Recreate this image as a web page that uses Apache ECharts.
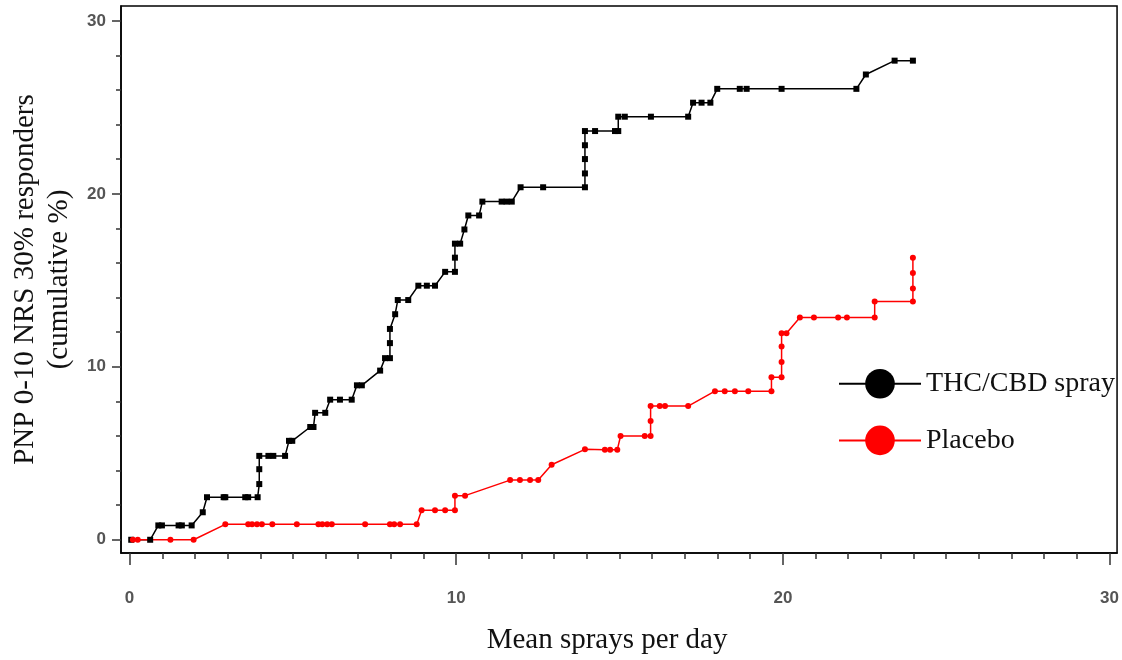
<!DOCTYPE html>
<html>
<head>
<meta charset="utf-8">
<script src="https://cdn.jsdelivr.net/npm/echarts@6/dist/echarts.min.js"></script>
<style>
  html, body { margin: 0; padding: 0; background: #fff; }
  #chart { width: 1122px; height: 660px; }
</style>
</head>
<body>
<div id="chart"></div>
<script>
// values
var thcX = [0.05, 0.63, 0.88, 0.99, 1.5, 1.6, 1.9, 2.24, 2.37, 2.88, 2.93, 3.54, 3.63, 3.92, 3.97, 3.97, 3.97,
  4.25, 4.4, 4.76, 4.88, 4.98, 5.53, 5.63, 5.68, 5.99, 6.14, 6.44, 6.8, 6.96, 7.11, 7.67, 7.82, 7.97, 7.97, 7.97,
  8.13, 8.21, 8.53, 8.84, 9.1, 9.35, 9.66, 9.96, 9.96, 9.96, 10.12, 10.25, 10.37, 10.7, 10.8, 11.39, 11.54, 11.7,
  11.97, 12.66, 13.94, 13.94, 13.94, 13.94, 13.94, 14.25, 14.86, 14.96, 14.96, 15.16, 15.96, 17.1, 17.25, 17.51,
  17.78, 17.99, 18.68, 18.89, 19.96, 22.25, 22.54, 23.42, 23.98];
var thcY = [0, 0, 0.83, 0.83, 0.83, 0.83, 0.83, 1.59, 2.46, 2.46, 2.46, 2.46, 2.46, 2.46, 3.22, 4.08, 4.85,
  4.85, 4.85, 4.85, 5.72, 5.72, 6.52, 6.52, 7.34, 7.34, 8.1, 8.1, 8.1, 8.93, 8.93, 9.78, 10.5, 10.5, 11.37, 12.19,
  13.04, 13.86, 13.86, 14.69, 14.69, 14.69, 15.49, 15.49, 16.31, 17.12, 17.12, 17.94, 18.75, 18.75, 19.55, 19.55, 19.55, 19.55,
  20.38, 20.38, 20.38, 21.18, 22.01, 22.81, 23.63, 23.63, 23.63, 23.63, 24.46, 24.46, 24.46, 24.46, 25.27, 25.27,
  25.27, 26.07, 26.07, 26.07, 26.07, 26.07, 26.9, 27.7, 27.7];

var placeboX = [0.1, 0.25, 1.25, 1.96, 2.93, 3.63, 3.75, 3.9, 4.05, 4.37, 5.12, 5.78, 5.9, 6.05, 6.19, 7.21,
  7.97, 8.1, 8.28, 8.79, 8.94, 9.35, 9.66, 9.96, 9.96, 10.27, 11.65, 11.95, 12.26, 12.51, 12.92, 13.94, 14.55,
  14.71, 14.93, 15.03, 15.77, 15.95, 15.95, 15.95, 16.23, 16.39, 17.1, 17.92, 18.22, 18.53, 18.94, 19.65, 19.65,
  19.96, 19.96, 19.96, 19.96, 20.11, 20.52, 20.95, 21.69, 21.96, 22.81, 22.81, 23.98, 23.98, 23.98, 23.98];
var placeboY = [0, 0, 0, 0, 0.89, 0.89, 0.89, 0.89, 0.89, 0.89, 0.89, 0.89, 0.89, 0.89, 0.89, 0.89,
  0.89, 0.89, 0.89, 0.89, 1.71, 1.71, 1.71, 1.71, 2.55, 2.55, 3.45, 3.45, 3.45, 3.45, 4.34, 5.23, 5.2,
  5.2, 5.2, 6.0, 6.0, 6.0, 6.87, 7.73, 7.73, 7.73, 7.73, 8.59, 8.59, 8.59, 8.59, 8.59, 9.4,
  9.4, 10.28, 11.18, 11.94, 11.94, 12.85, 12.85, 12.85, 12.85, 12.85, 13.77, 13.77, 14.53, 15.43, 16.3];

var xMajorTicks = [0, 10, 20, 30];
var xMinorTicks = [0, 1, 2, 3, 4, 5, 6, 7, 8, 9, 10, 11, 12, 13, 14, 15, 16, 17, 18, 19, 20,
  21, 22, 23, 24, 25, 26, 27, 28, 29, 30];
var yMajorTicks = [0, 10, 20, 30];
var yMinorTicks = [0, 2, 4, 6, 8, 10, 12, 14, 16, 18, 20, 22, 24, 26, 28, 30];

var serif = "'Liberation Serif', 'Times New Roman', serif";
var sans = "'Liberation Sans', Arial, sans-serif";

function pairs(xs, ys, sym) {
  var out = [];
  for (var i = 0; i < xs.length; i++) {
    var d = { value: [xs[i], ys[i]] };
    if (sym) d.symbol = sym;
    out.push(d);
  }
  return out;
}

var chart = echarts.init(document.getElementById('chart'));

var xRange = { min: -0.263, max: 30.23 };
var yRange = { min: -0.765, max: 30.86 };

chart.setOption({
  animation: false,
  backgroundColor: '#fff',
  grid: {
    left: 121, right: 4.5, top: 6, bottom: 104,
    show: true, borderColor: '#000', borderWidth: 1.5, backgroundColor: '#fff'
  },
  legend: {
    orient: 'vertical',
    left: 838, top: 369,
    padding: 0,
    itemWidth: 82, itemHeight: 37, itemGap: 27,
    textStyle: { fontFamily: serif, fontSize: 28, color: '#111' },
    data: ['THC/CBD spray', 'Placebo']
  },
  xAxis: [{
    type: 'value', min: xRange.min, max: xRange.max, position: 'bottom',
    name: 'Mean sprays per day', nameLocation: 'middle', nameGap: 73,
    nameTextStyle: { fontFamily: serif, fontSize: 29, color: '#111', padding: [0, 24, 0, 0] },
    axisLine: { show: true, onZero: false, lineStyle: { color: '#000', width: 1.5 } },
    axisTick: { show: true, inside: false, customValues: xMajorTicks, length: 12, lineStyle: { color: '#333', width: 1.5 } },
    axisLabel: { customValues: xMajorTicks, margin: 37, fontFamily: sans, fontSize: 17, fontWeight: 'bold', color: '#555' },
    splitLine: { show: false }
  }, {
    type: 'value', min: xRange.min, max: xRange.max, position: 'bottom', gridIndex: 0,
    axisLine: { show: false, onZero: false },
    axisTick: { show: true, inside: false, customValues: xMinorTicks, length: 6, lineStyle: { color: '#333', width: 1.5 } },
    axisLabel: { show: false },
    splitLine: { show: false }
  }],
  yAxis: [{
    type: 'value', min: yRange.min, max: yRange.max, position: 'left',
    name: 'PNP 0-10 NRS 30% responders\n(cumulative %)', nameLocation: 'middle', nameRotate: 90, nameGap: 42,
    nameTextStyle: { fontFamily: serif, fontSize: 29, color: '#111', lineHeight: 34 },
    axisLine: { show: true, onZero: false, lineStyle: { color: '#000', width: 1.5 } },
    axisTick: { show: true, inside: false, customValues: yMajorTicks, length: 9, lineStyle: { color: '#333', width: 1.5 } },
    axisLabel: { customValues: yMajorTicks, margin: 15, fontFamily: sans, fontSize: 17, fontWeight: 'bold', color: '#555' },
    splitLine: { show: false }
  }, {
    type: 'value', min: yRange.min, max: yRange.max, position: 'left', gridIndex: 0,
    axisLine: { show: false, onZero: false },
    axisTick: { show: true, inside: false, customValues: yMinorTicks, length: 5, lineStyle: { color: '#333', width: 1.5 } },
    axisLabel: { show: false },
    splitLine: { show: false }
  }],
  series: [{
    name: 'THC/CBD spray',
    type: 'line',
    xAxisIndex: 0, yAxisIndex: 0,
    data: pairs(thcX, thcY, 'rect'),
    symbol: 'circle', symbolSize: 6,
    showAllSymbol: true,
    color: '#000',
    itemStyle: { color: '#000' },
    lineStyle: { color: '#000', width: 1.5 }
  }, {
    name: 'Placebo',
    type: 'line',
    xAxisIndex: 0, yAxisIndex: 0,
    data: pairs(placeboX, placeboY),
    symbol: 'circle', symbolSize: 6,
    showAllSymbol: true,
    color: '#ff0000',
    itemStyle: { color: '#ff0000' },
    lineStyle: { color: '#ff0000', width: 1.5 }
  }]
});
</script>
</body>
</html>
